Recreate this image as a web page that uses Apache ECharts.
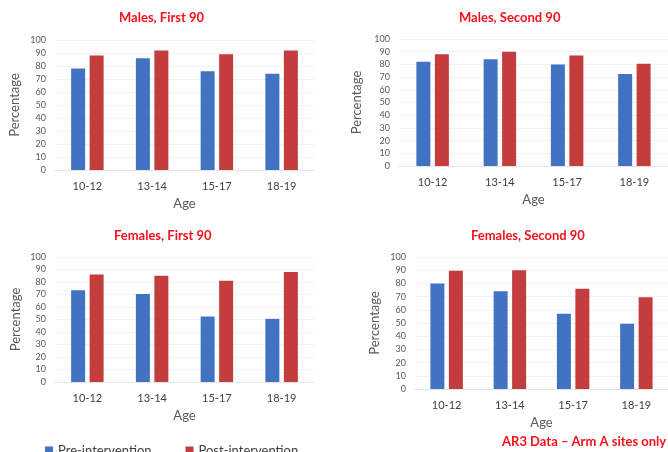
<!DOCTYPE html>
<html>
<head>
<meta charset="utf-8">
<script src="https://cdn.jsdelivr.net/npm/echarts@6/dist/echarts.min.js"></script>
<style>html,body{margin:0;padding:0;background:#fff}#c{width:668px;height:452px}</style>
</head>
<body>
<div id="c"></div>
<script>
const categories = ['10-12', '13-14', '15-17', '18-19'];
const panelTitles = ['Males, First 90', 'Males, Second 90', 'Females, First 90', 'Females, Second 90'];
const seriesNames = ['Pre-intervention', 'Post-intervention'];
const malesFirstPre = [78, 86, 76, 74];
const malesFirstPost = [88, 92, 89, 92];
const malesSecondPre = [82, 84, 80, 72.5];
const malesSecondPost = [88, 90, 87, 80.5];
const femalesFirstPre = [73.5, 70.5, 52.5, 50.5];
const femalesFirstPost = [86, 85, 81, 88];
const femalesSecondPre = [80, 74, 57, 49.5];
const femalesSecondPost = [89.5, 90, 76, 69.5];
const footerText = 'AR3 Data \u2013 Arm A sites only';
const yAxisName = 'Percentage';
const xAxisName = 'Age';

const panelData = [
  [malesFirstPre, malesFirstPost],
  [malesSecondPre, malesSecondPost],
  [femalesFirstPre, femalesFirstPost],
  [femalesSecondPre, femalesSecondPost]
];

const FONT = 'Lato, "Open Sans", sans-serif';
const BLUE = '#4272c2';
const RED = '#c43d3d';
const TITLE_RED = '#f5101c';
const grids = [
  {left: 55, top: 40, width: 259, height: 130},
  {left: 399, top: 39, width: 269, height: 127},
  {left: 55, top: 257, width: 259, height: 125},
  {left: 415, top: 257, width: 272, height: 132}
];
const titleBoxes = [
  {left: 119, top: 11},
  {left: 459, top: 11},
  {left: 114, top: 229},
  {left: 471, top: 229}
];
const yNameGap = [34, 36, 33, 34];

const chart = echarts.init(document.getElementById('c'), null, {renderer: 'canvas'});
const option = {
  animation: false,
  backgroundColor: '#ffffff',
  textStyle: {fontFamily: FONT},
  title: panelTitles.map((t, i) => ({
    text: t, left: titleBoxes[i].left, top: titleBoxes[i].top,
    padding: 0,
    textStyle: {color: TITLE_RED, fontSize: 13, fontWeight: 'bold', fontFamily: FONT}
  })).concat([{
    text: footerText, left: 502, top: 435, padding: 0,
    textStyle: {color: TITLE_RED, fontSize: 13, fontWeight: 'bold', fontFamily: FONT}
  }]),
  legend: {
    data: seriesNames, left: 40, top: 439, itemWidth: 8, itemHeight: 8, itemGap: 34,
    icon: 'rect',
    textStyle: {color: '#404040', fontSize: 13, fontFamily: FONT}
  },
  grid: grids,
  xAxis: grids.map((g, i) => ({
    type: 'category', gridIndex: i, data: categories,
    name: xAxisName, nameLocation: 'middle', nameGap: 27,
    nameTextStyle: {color: '#595959', fontSize: 13, fontFamily: FONT},
    axisLine: {lineStyle: {color: '#e4e4e4'}},
    axisTick: {show: false},
    axisLabel: {color: '#404040', fontSize: 11, margin: 11, fontFamily: FONT}
  })),
  yAxis: grids.map((g, i) => ({
    type: 'value', gridIndex: i, min: 0, max: 100, interval: 10,
    name: yAxisName, nameLocation: 'middle', nameGap: yNameGap[i], nameRotate: 90,
    nameTextStyle: {color: '#595959', fontSize: 13, fontFamily: FONT},
    axisLine: {show: false}, axisTick: {show: false},
    splitLine: {lineStyle: {color: '#f2f2f2'}},
    axisLabel: {color: '#595959', fontSize: 9, margin: 9, fontFamily: FONT}
  })),
  series: []
};
panelData.forEach((pair, i) => {
  pair.forEach((vals, j) => {
    option.series.push({
      type: 'bar', name: seriesNames[j], xAxisIndex: i, yAxisIndex: i,
      data: vals, barWidth: 14, barGap: '32%',
      itemStyle: {color: j === 0 ? BLUE : RED}
    });
  });
});
chart.setOption(option);
</script>
</body>
</html>
